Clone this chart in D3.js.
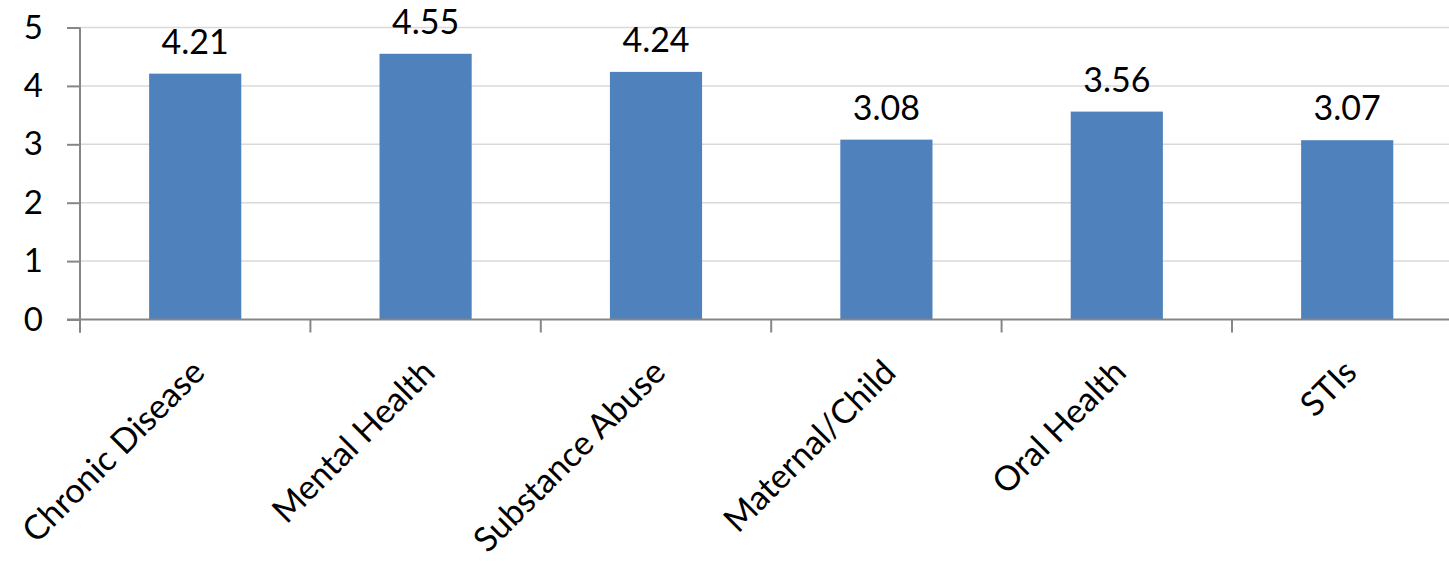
<!DOCTYPE html>
<html>
<head>
<meta charset="utf-8">
<script src="https://cdn.jsdelivr.net/npm/d3@7"></script>
<style>
  body { margin: 0; background: #fff; }
  svg { display: block; font-family: Lato, "Open Sans", sans-serif; }
</style>
</head>
<body>
<div id="graph"></div>
<script>
var categories = ["Chronic Disease", "Mental Health", "Substance Abuse", "Maternal/Child", "Oral Health", "STIs"];
var values = [4.21, 4.55, 4.24, 3.08, 3.56, 3.07];
var yTicks = [0, 1, 2, 3, 4, 5];

var width = 1449, height = 566;
var plotLeft = 80, plotTop = 27.5, plotBottom = 319.5;
var band = 230.4;

var svg = d3.select('#graph')
  .append('svg')
  .attr('width', width)
  .attr('height', height);

var x = d3.scaleBand()
  .domain(categories)
  .range([plotLeft, plotLeft + band * categories.length])
  .paddingInner(0.6)
  .paddingOuter(0.3);

var y = d3.scaleLinear()
  .domain([0, 5])
  .range([plotBottom, plotTop]);

// gridlines
svg.append('g')
  .selectAll('line')
  .data(yTicks.slice(1))
  .enter()
  .append('line')
    .attr('x1', plotLeft)
    .attr('x2', width)
    .attr('y1', function(d){ return y(d); })
    .attr('y2', function(d){ return y(d); })
    .style('stroke', '#d9d9d9')
    .style('stroke-width', 1.5);

// bars
svg.append('g')
  .selectAll('rect')
  .data(values)
  .enter()
  .append('rect')
    .attr('x', function(d, i){ return x(categories[i]); })
    .attr('width', x.bandwidth())
    .attr('y', function(d){ return y(d); })
    .attr('height', function(d){ return y(0) - y(d); })
    .style('fill', '#4f81bd');

// value labels
svg.append('g')
  .selectAll('text')
  .data(values)
  .enter()
  .append('text')
    .attr('x', function(d, i){ return x(categories[i]) + x.bandwidth() / 2; })
    .attr('y', function(d){ return y(d) - 20; })
    .attr('text-anchor', 'middle')
    .style('font-size', '34px')
    .style('fill', '#000')
    .text(function(d){ return d.toFixed(2); });

// y axis
var yAxis = svg.append('g')
  .attr('transform', 'translate(' + plotLeft + ',0)')
  .call(d3.axisLeft(y).tickValues(yTicks).tickSize(13).tickPadding(24).tickFormat(d3.format('d')));
yAxis.select('.domain').remove();
yAxis.selectAll('line').style('stroke', '#868686').style('stroke-width', 2);
yAxis.selectAll('text').style('font-size', '33px').style('font-family', 'Lato').style('fill', '#000');
yAxis.append('line')
  .attr('x1', 0).attr('x2', 0)
  .attr('y1', plotTop).attr('y2', plotBottom + 13)
  .style('stroke', '#868686').style('stroke-width', 2);

// x axis line and ticks
var boundaries = d3.range(categories.length + 1).map(function(i){ return plotLeft + i * band; });
svg.append('line')
  .attr('x1', plotLeft - 13).attr('x2', width)
  .attr('y1', plotBottom).attr('y2', plotBottom)
  .style('stroke', '#868686').style('stroke-width', 2);
svg.append('g')
  .selectAll('line')
  .data(boundaries)
  .enter()
  .append('line')
    .attr('x1', function(d){ return d; })
    .attr('x2', function(d){ return d; })
    .attr('y1', plotBottom)
    .attr('y2', plotBottom + 13)
    .style('stroke', '#868686')
    .style('stroke-width', 2);

// category labels
svg.append('g')
  .selectAll('text')
  .data(categories)
  .enter()
  .append('text')
    .attr('transform', function(d){
      return 'translate(' + (x(d) + x.bandwidth() / 2 + 3) + ',366) rotate(-45)';
    })
    .attr('text-anchor', 'end')
    .attr('dy', '0.35em')
    .style('font-size', '34px')
    .style('fill', '#000')
    .text(function(d){ return d; });
</script>
</body>
</html>
